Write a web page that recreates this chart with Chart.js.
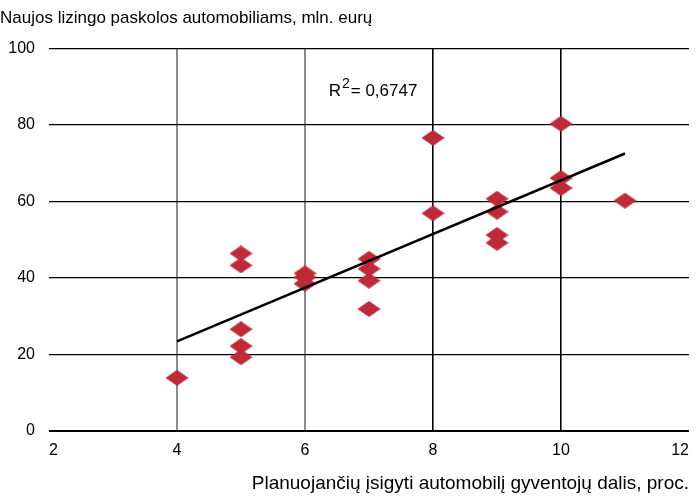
<!DOCTYPE html>
<html>
<head>
<meta charset="utf-8">
<script src="https://cdn.jsdelivr.net/npm/chart.js@4.4.1/dist/chart.umd.min.js"></script>
<style>
  html, body { margin: 0; padding: 0; background: #fff; }
  #wrap { width: 699px; height: 496px; }
</style>
</head>
<body>
<div id="wrap"><canvas id="chart" width="699" height="496"></canvas></div>
<script>
// share of residents planning to buy a car (%) vs new car leasing loans (mln. EUR)
const xValues = [4, 5, 5, 5, 5, 5, 6, 6, 6, 7, 7, 7, 7, 8, 8, 9, 9, 9, 9, 10, 10, 10, 11];
const yValues = [13.9, 46.4, 43.3, 26.6, 22.2, 19.3, 41.2, 40.2, 38.5, 45.0, 42.4, 39.3, 31.9,
                 76.6, 56.9, 60.7, 57.3, 51.2, 49.2, 80.3, 66.1, 63.5, 60.2];
const xTicks = [2, 4, 6, 8, 10, 12];
const yTicks = [0, 20, 40, 60, 80, 100];
const trendRange = [4, 11];
const rSquared = '0,6747';

const yTitle = 'Naujos lizingo paskolos automobiliams, mln. eurų';
const xTitle = 'Planuojančių įsigyti automobilį gyventojų dalis, proc.';

const FONT = '"Liberation Sans Narrow", "Liberation Sans", Arial, sans-serif';
const RED = '#BE2A37';

// least squares trend line
function trend(xs, ys) {
  const n = xs.length;
  const mx = xs.reduce((a, b) => a + b, 0) / n;
  const my = ys.reduce((a, b) => a + b, 0) / n;
  let sxy = 0, sxx = 0;
  xs.forEach((x, i) => { sxy += (x - mx) * (ys[i] - my); sxx += (x - mx) * (x - mx); });
  const k = sxy / sxx;
  return trendRange.map(x => ({ x: x, y: my + k * (x - mx) }));
}

// flat diamond marker
function diamond(w, h, color) {
  const c = document.createElement('canvas');
  c.width = w; c.height = h;
  const g = c.getContext('2d');
  g.fillStyle = color;
  g.beginPath();
  g.moveTo(w / 2, 0);
  g.lineTo(w, h / 2);
  g.lineTo(w / 2, h);
  g.lineTo(0, h / 2);
  g.closePath();
  g.fill();
  return c;
}

const rLabel = {
  id: 'rLabel',
  afterDatasetsDraw(chart) {
    const { ctx, scales } = chart;
    let px = scales.x.getPixelForValue(6.37);
    const py = scales.y.getPixelForValue(87.6);
    ctx.save();
    ctx.fillStyle = '#000';
    ctx.textBaseline = 'alphabetic';
    ctx.font = '17px ' + FONT;
    ctx.fillText('R', px, py);
    px += ctx.measureText('R').width + 1;
    ctx.font = '14px ' + FONT;
    ctx.fillText('2', px, py - 8);
    px += ctx.measureText('2').width + 1;
    ctx.font = '17px ' + FONT;
    ctx.fillText('= ' + rSquared, px, py);
    ctx.restore();
  }
};

Chart.defaults.font.family = FONT;
Chart.defaults.font.size = 16;
Chart.defaults.color = '#000';

new Chart(document.getElementById('chart'), {
  type: 'scatter',
  data: {
    datasets: [
      {
        type: 'line',
        data: trend(xValues, yValues),
        borderColor: '#000',
        borderWidth: 2.5,
        pointRadius: 0,
        fill: false
      },
      {
        data: xValues.map((x, i) => ({ x: x, y: yValues[i] })),
        pointStyle: diamond(23, 16, RED),
        pointRadius: 8,
        backgroundColor: RED,
        borderColor: RED
      }
    ]
  },
  options: {
    responsive: false,
    animation: false,
    layout: { padding: { left: 0, right: 4, top: 0, bottom: 0 } },
    plugins: {
      legend: { display: false },
      tooltip: { enabled: false },
      title: {
        display: true,
        text: yTitle,
        align: 'start',
        font: { size: 17, weight: 'normal' },
        padding: { top: 8, bottom: 20 }
      }
    },
    scales: {
      x: {
        type: 'linear',
        min: xTicks[0],
        max: xTicks[xTicks.length - 1],
        afterBuildTicks: s => { s.ticks = xTicks.map(v => ({ value: v })); },
        ticks: { align: 'inner', padding: 10 },
        grid: {
          drawTicks: false,
          color: c => {
            const v = c.tick && c.tick.value;
            if (v === 4 || v === 6) return '#8c8c8c';
            if (v === 8 || v === 10) return '#000';
            return 'rgba(0,0,0,0)';
          },
          lineWidth: c => (c.tick && c.tick.value >= 8 ? 1.6 : 2)
        },
        border: { display: false },
        title: {
          display: true,
          text: xTitle,
          align: 'end',
          font: { size: 19 },
          padding: { top: 2, bottom: 1 }
        }
      },
      y: {
        min: yTicks[0],
        max: yTicks[yTicks.length - 1],
        afterBuildTicks: s => { s.ticks = yTicks.map(v => ({ value: v })); },
        afterFit: s => { s.width = 49; },
        ticks: { padding: 14 },
        grid: {
          drawTicks: false,
          color: '#000',
          lineWidth: c => (c.tick && c.tick.value === 0 ? 2 : 1.2)
        },
        border: { display: false }
      }
    }
  },
  plugins: [rLabel]
});
</script>
</body>
</html>
